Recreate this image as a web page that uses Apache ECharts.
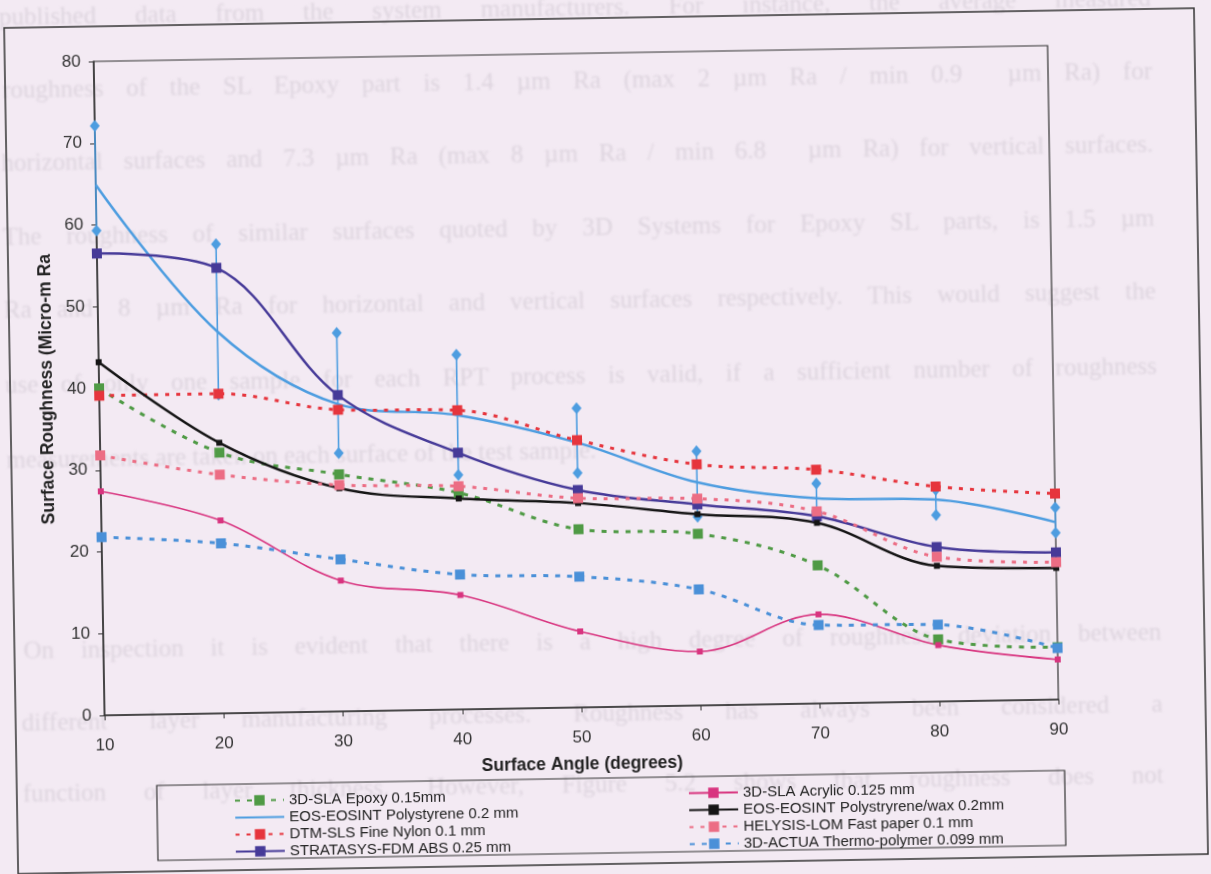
<!DOCTYPE html>
<html>
<head>
<meta charset="utf-8">
<title>Surface Roughness vs Surface Angle</title>
<script src="https://cdn.jsdelivr.net/npm/echarts@6/dist/echarts.min.js"></script>
<style>
  html, body { margin: 0; padding: 0; background: #f3eaf3; overflow: hidden; }
  #page { position: relative; width: 1211px; height: 874px; background: #f3eaf3; transform: rotate(-0.95deg); transform-origin: 50% 50%; }
  #ghost { position: absolute; left: 0; top: 0; width: 1211px; height: 874px; filter: blur(1.1px); }
  .gl { position: absolute; font-family: "Liberation Serif", serif; font-size: 25px; line-height: 30px; color: #ddd4de; white-space: nowrap; }
  .gl.j { text-align: justify; text-align-last: justify; white-space: normal; }
  #chart { position: absolute; left: 0; top: 0; width: 1211px; height: 874px; }
</style>
</head>
<body>
<div id="page">
  <div id="ghost"></div>
  <div id="chart"></div>
</div>
<script>
// Surface angle in degrees
const angles = [10, 20, 30, 40, 50, 60, 70, 80, 90];

// Mean roughness (micro-m Ra) per process
const slaEpoxy       = [40.0, 31.9, 29.0, 26.5, 21.8, 21.0, 16.9, 7.6, 6.4];
const eosPolystyrene = [64.9, 46.7, 37.6, 36.0, 32.4, 27.3, 25.1, 24.7, 21.7];
const dtmNylon       = [39.1, 39.1, 36.9, 36.6, 32.7, 29.5, 28.6, 26.3, 25.2];
const fdmAbs         = [56.5, 54.5, 38.7, 31.4, 26.6, 24.6, 22.9, 18.9, 18.0];
const slaAcrylic     = [27.4, 23.6, 16.0, 14.0, 9.3, 6.6, 10.9, 6.9, 4.9];
const eosWax         = [43.2, 33.1, 27.3, 25.8, 25.0, 23.4, 22.1, 16.6, 16.1];
const lomPaper       = [31.8, 29.2, 27.7, 27.3, 25.6, 25.3, 23.5, 17.7, 16.8];
const actuaThermo    = [21.8, 20.8, 18.6, 16.5, 16.0, 14.2, 9.6, 9.4, 6.3];

// Max / min range for the EOS polystyrene samples
const polyHigh = [72.1, 57.4, 46.3, 43.4, 36.6, 31.1, 26.9, 25.9, 23.5];
const polyLow  = [59.3, 39.0, 31.6, 28.7, 28.7, 23.1, 23.0, 22.8, 20.4];

// Series names, as listed in the two legend columns
const namesLeft = [
  '3D-SLA Epoxy 0.15mm',
  'EOS-EOSINT Polystyrene 0.2 mm',
  'DTM-SLS Fine Nylon 0.1 mm',
  'STRATASYS-FDM ABS 0.25 mm'
];
const namesRight = [
  '3D-SLA Acrylic 0.125 mm',
  'EOS-EOSINT Polystryrene/wax 0.2mm',
  'HELYSIS-LOM Fast paper 0.1 mm',
  '3D-ACTUA Thermo-polymer 0.099 mm'
];

// Body text of the page behind the figure
const pageLines = [
  { text: 'published data from the system manufacturers. For instance, the average measured', y: 7, left: 6, justify: true },
  { text: 'roughness of the SL Epoxy part is 1.4 \u00b5m Ra (max 2 \u00b5m Ra / min 0.9 \u00a0\u00b5m Ra) for', y: 80, left: 8, justify: true },
  { text: 'horizontal surfaces and 7.3 \u00b5m Ra (max 8 \u00b5m Ra / min 6.8 \u00a0\u00b5m Ra) for vertical surfaces.', y: 153, left: 6, justify: true },
  { text: 'The roughness of similar surfaces quoted by 3D Systems for Epoxy SL parts, is 1.5 \u00b5m', y: 227, left: 6, justify: true },
  { text: 'Ra and 8 \u00b5m Ra for horizontal and vertical surfaces respectively. This would suggest the', y: 300, left: 6, justify: true },
  { text: 'use of only one sample for each RPT process is valid, if a sufficient number of roughness', y: 375, left: 6, justify: true },
  { text: 'measurements are taken on each surface of the test sample.', y: 450, left: 6, justify: false },
  { text: 'On inspection it is evident that there is a high degree of roughness deviation between', y: 641, left: 20, justify: true },
  { text: 'different layer manufacturing processes. Roughness has always been considered a', y: 713, left: 17, justify: true },
  { text: 'function of layer thickness. However, Figure 5.2 shows that roughness does not', y: 784, left: 17, justify: true }
];

const ghost = document.getElementById('ghost');
pageLines.forEach(function (l) {
  const d = document.createElement('div');
  d.className = 'gl' + (l.justify ? ' j' : '');
  d.style.left = l.left + 'px';
  d.style.top = (l.y - 15) + 'px';
  if (l.justify) d.style.width = (1158 - l.left) + 'px';
  d.textContent = l.text;
  ghost.appendChild(d);
});

const pair = arr => angles.map((a, i) => [a, arr[i]]);

const C = {
  green: '#4f9a45',
  sky: '#4d9de0',
  red: '#e6353d',
  indigo: '#463a98',
  magenta: '#d8347f',
  black: '#151515',
  pink: '#ec6d84',
  blue: '#4a90d8'
};

function lineSeries(name, data, color, opts) {
  return Object.assign({
    type: 'line',
    name: name,
    data: pair(data),
    smooth: 0.35,
    symbol: 'rect',
    symbolSize: 10,
    itemStyle: { color: color },
    lineStyle: { color: color, width: 2.5 },
    z: 3
  }, opts || {});
}

const dotted = [4, 7];
const dashed = [5, 7];

const series = [
  lineSeries(namesLeft[0], slaEpoxy, C.green, { lineStyle: { color: C.green, width: 3, type: dashed } }),
  lineSeries(namesLeft[1], eosPolystyrene, C.sky, { symbol: 'none', lineStyle: { color: C.sky, width: 2.5 } }),
  lineSeries(namesLeft[2], dtmNylon, C.red, { lineStyle: { color: C.red, width: 3, type: dotted } }),
  lineSeries(namesLeft[3], fdmAbs, C.indigo, { lineStyle: { color: C.indigo, width: 2.5 } }),
  lineSeries(namesRight[0], slaAcrylic, C.magenta, { symbolSize: 6, lineStyle: { color: C.magenta, width: 1.6 } }),
  lineSeries(namesRight[1], eosWax, C.black, { symbolSize: 6, lineStyle: { color: C.black, width: 2.5 } }),
  lineSeries(namesRight[2], lomPaper, C.pink, { lineStyle: { color: C.pink, width: 3, type: dotted } }),
  lineSeries(namesRight[3], actuaThermo, C.blue, { lineStyle: { color: C.blue, width: 3, type: dashed } }),
  {
    // max / min whiskers with diamond ends
    type: 'custom',
    data: angles.map((a, i) => [a, polyLow[i], polyHigh[i]]),
    encode: { x: 0, y: [1, 2] },
    z: 2,
    renderItem: function (params, api) {
      const x = api.value(0);
      const lo = api.coord([x, api.value(1)]);
      const hi = api.coord([x, api.value(2)]);
      const diamond = p => ({
        type: 'polygon',
        shape: { points: [[p[0], p[1] - 6], [p[0] + 5, p[1]], [p[0], p[1] + 6], [p[0] - 5, p[1]]] },
        style: { fill: C.sky }
      });
      return {
        type: 'group',
        children: [
          { type: 'line', shape: { x1: lo[0], y1: lo[1], x2: hi[0], y2: hi[1] }, style: { stroke: C.sky, lineWidth: 1.6 } },
          diamond(lo),
          diamond(hi)
        ]
      };
    }
  }
];

const legendBase = {
  orient: 'vertical',
  top: 781,
  itemWidth: 49,
  itemHeight: 13,
  itemGap: 0,
  selectedMode: false,
  textStyle: { fontFamily: 'Liberation Sans, Arial, sans-serif', fontSize: 15, lineHeight: 17, color: '#222' }
};

const axisFont = 'Liberation Sans, Arial, sans-serif';

const leftLegendData = namesLeft.map((n, i) => i === 1 ? { name: n, itemStyle: { opacity: 0 } } : n);

const option = {
  animation: false,
  backgroundColor: 'transparent',
  grid: { left: 100, right: 157, top: 53, bottom: 167, show: true, borderColor: '#333', borderWidth: 1.2 },
  xAxis: {
    type: 'value',
    min: 10, max: 90, interval: 10,
    name: 'Surface Angle (degrees)',
    nameLocation: 'middle',
    nameGap: 48,
    nameTextStyle: { fontFamily: axisFont, fontWeight: 'bold', fontSize: 17.5, color: '#222' },
    axisLine: { show: true, lineStyle: { color: '#333', width: 1.5 } },
    axisTick: { show: true, length: 5, lineStyle: { color: '#333' } },
    axisLabel: { fontFamily: axisFont, fontSize: 17, color: '#333', margin: 22 },
    splitLine: { show: false }
  },
  yAxis: {
    type: 'value',
    min: 0, max: 80, interval: 10,
    name: 'Surface Roughness (Micro-m Ra',
    nameLocation: 'middle',
    nameRotate: 90,
    nameGap: 42,
    nameTextStyle: { fontFamily: axisFont, fontWeight: 'bold', fontSize: 17.5, color: '#222' },
    axisLine: { show: true, lineStyle: { color: '#333', width: 1.5 } },
    axisTick: { show: true, length: 5, lineStyle: { color: '#333' } },
    axisLabel: { fontFamily: axisFont, fontSize: 17, color: '#333', margin: 13 },
    splitLine: { show: false }
  },
  legend: [
    Object.assign({}, legendBase, { left: 223, data: leftLegendData }),
    Object.assign({}, legendBase, { left: 677, data: namesRight })
  ],
  graphic: [
    { type: 'rect', shape: { x: 11, y: 18, width: 1190, height: 846 }, style: { fill: 'none', stroke: '#333', lineWidth: 1.5 }, silent: true },
    { type: 'rect', shape: { x: 151, y: 778, width: 908, height: 75 }, style: { fill: 'none', stroke: '#333', lineWidth: 1.2 }, silent: true }
  ],
  series: series
};

const chart = echarts.init(document.getElementById('chart'), null, { renderer: 'canvas' });
chart.setOption(option);
</script>
</body>
</html>
